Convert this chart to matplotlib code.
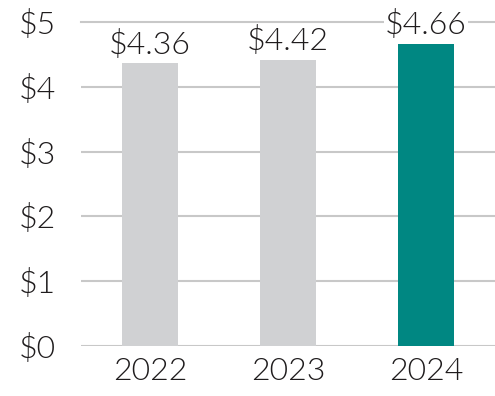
import matplotlib
matplotlib.use("Agg")
import matplotlib.pyplot as plt

# Data
years = ["2022", "2023", "2024"]
values = [4.36, 4.42, 4.66]
bar_colors = ["#d0d1d3", "#d0d1d3", "#008782"]
yticks = [0, 1, 2, 3, 4, 5]
ytick_labels = ["$0", "$1", "$2", "$3", "$4", "$5"]

plt.rcParams['font.family'] = ['Lato', 'DejaVu Sans']
plt.rcParams['font.weight'] = 300
text_color = "#1f1c1d"

fig = plt.figure(figsize=(4.95, 3.96), dpi=100)
ax = fig.add_axes([0.1636, 0.1263, 0.8364, 0.8182])

x = range(len(years))
ax.bar(x, values, width=0.405, color=bar_colors, zorder=2)

for i, v in enumerate(values):
    ax.text(i, v + 0.06, f"${v:.2f}", ha="center", va="bottom", fontsize=23,
            color=text_color, zorder=4, fontweight=300,
            bbox=dict(facecolor="white", edgecolor="none", pad=1))

ax.set_xlim(-0.5, 2.5)
ax.set_ylim(0, 5)
ax.set_yticks(yticks)
ax.set_yticklabels(ytick_labels)
ax.set_xticks(list(x))
ax.set_xticklabels(years)
ax.tick_params(axis="both", length=0, labelsize=23, colors=text_color)
ax.tick_params(axis="y", pad=18)
ax.tick_params(axis="x", pad=8)

ax.grid(axis="y", color="#c8c8c8", linewidth=1.5, zorder=1)
ax.set_axisbelow(True)
for s in ax.spines.values():
    s.set_visible(False)
ax.get_ygridlines()[-1].set_clip_on(False)

fig.savefig("out.png", dpi=100)
